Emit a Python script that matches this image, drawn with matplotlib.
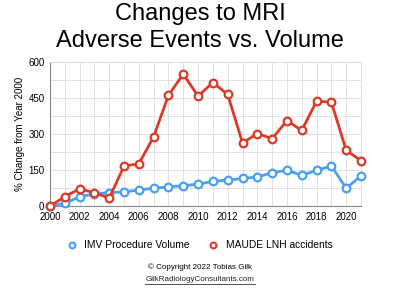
import numpy as np
import matplotlib
matplotlib.use("Agg")
import matplotlib.pyplot as plt
from matplotlib.ticker import MultipleLocator
from matplotlib.lines import Line2D

plt.rcParams['font.family'] = ['Liberation Sans', 'DejaVu Sans']

years = list(range(2000, 2022))
imv_volume = [0, 11, 39, 50, 56, 59, 67, 74, 80, 85, 91, 103, 108, 115, 121, 139,
              149, 128, 149, 167, 74, 126]
maude_lnh = [0, 39, 72, 55, 33, 167, 176, 289, 462, 550, 458, 515, 465, 263, 302,
             281, 356, 315, 437, 433, 232, 189]

blue = '#4a9ff5'
red = '#dc3a29'

fig = plt.figure(figsize=(4, 3.03), dpi=100)
ax = fig.add_axes([0.125, 0.32, 0.7775, 0.475])

ax.plot(years, imv_volume, color=blue, lw=2, marker='o', ms=5.5, mfc='white',
        mec=blue, mew=1.6, zorder=3, clip_on=False)
ax.plot(years, maude_lnh, color=red, lw=2, marker='o', ms=5.5, mfc='white',
        mec=red, mew=1.6, zorder=3, clip_on=False)

ax.set_xlim(2000, 2021)
ax.set_ylim(0, 600)
ax.xaxis.set_major_locator(MultipleLocator(2))
ax.xaxis.set_minor_locator(MultipleLocator(1))
ax.yaxis.set_major_locator(MultipleLocator(150))
ax.yaxis.set_minor_locator(MultipleLocator(75))
ax.grid(which='both', color='#dddddd', lw=0.6)
ax.set_axisbelow(True)
ax.tick_params(which='both', length=0, labelsize=7, pad=4)
for s in ['top', 'right']:
    ax.spines[s].set_color('#dddddd')
    ax.spines[s].set_linewidth(0.6)
for s in ['left', 'bottom']:
    ax.spines[s].set_color('#888888')
    ax.spines[s].set_linewidth(0.8)

ax.set_ylabel('% Change from Year 2000', fontsize=7, labelpad=2)

# title, two lines placed by baseline
fig.text(0.5, 0.934, 'Changes to MRI', ha='center', va='baseline', fontsize=17)
fig.text(0.5, 0.845, 'Adverse Events vs. Volume', ha='center', va='baseline', fontsize=17)

handles = [Line2D([], [], ls='none', marker='o', ms=4.2, mfc='white', mec=blue, mew=1.5),
           Line2D([], [], ls='none', marker='o', ms=4.2, mfc='white', mec=red, mew=1.5)]
fig.legend(handles, ['IMV Procedure Volume', 'MAUDE LNH accidents'],
           loc='center', bbox_to_anchor=(0.5, 0.191), ncol=2, frameon=False,
           fontsize=7.4, handlelength=0.8, columnspacing=1.9, handletextpad=0.8)

fig.text(0.5, 0.118, '\u00a9 Copyright 2022 Tobias Gilk', ha='center', va='center',
         fontsize=5.8)
fig.text(0.5, 0.078, 'GilkRadiologyConsultants.com', ha='center', va='center',
         fontsize=5.8, color='#222222')
fig.lines.append(Line2D([0.362, 0.638], [0.062, 0.062], transform=fig.transFigure,
                        color='#333333', lw=0.6))

fig.savefig('out.png', dpi=100)
